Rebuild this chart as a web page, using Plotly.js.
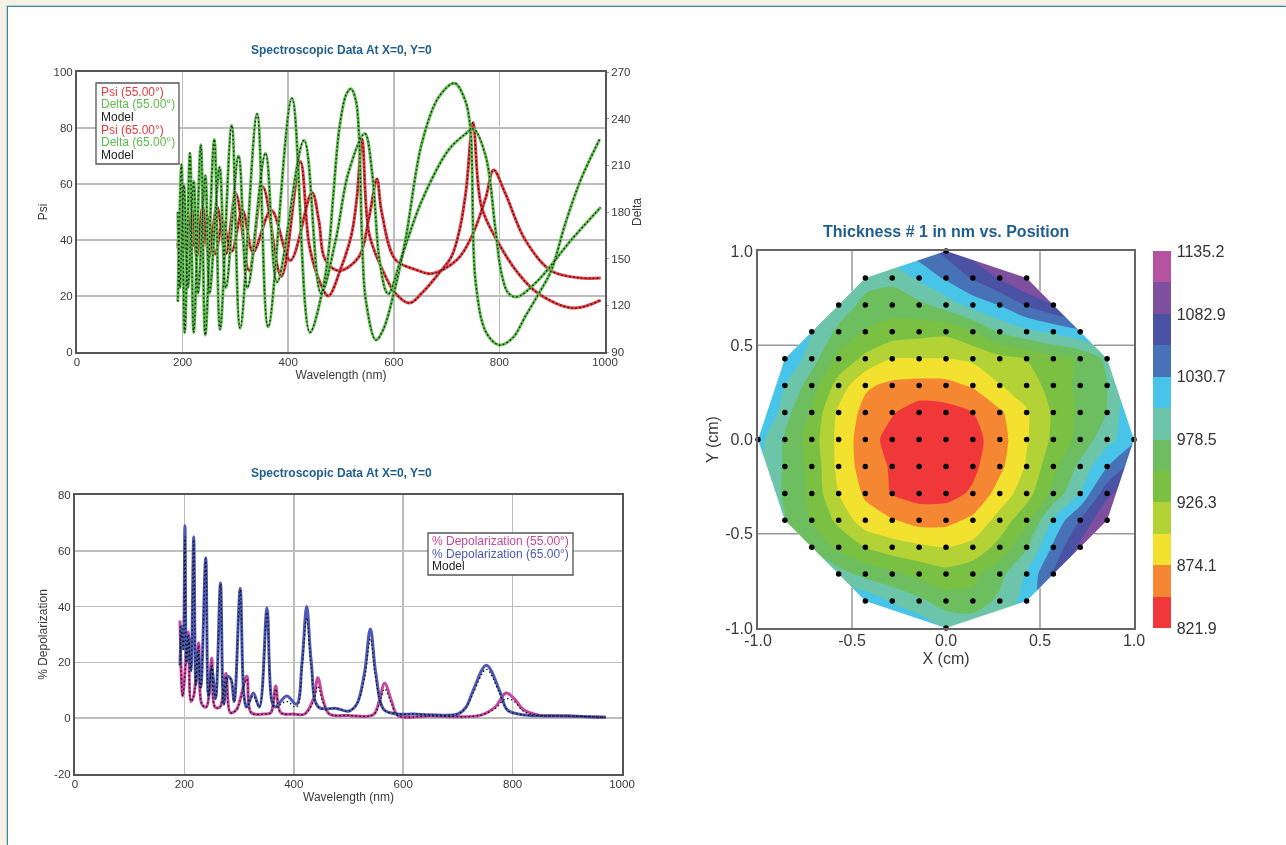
<!DOCTYPE html>
<html><head><meta charset="utf-8">
<script src="https://cdn.plot.ly/plotly-3.0.1.min.js"></script>
<style>
html,body{margin:0;padding:0;background:#f7f1e5;width:1286px;height:845px;overflow:hidden}
#panel{position:absolute;left:7px;top:6px;width:1279px;height:839px;background:#fff;border-left:1px solid #3f86a0;border-top:1px solid #3f86a0;box-sizing:border-box;box-shadow:-1px -1px 0 #bcd2d4}
#plot{position:absolute;left:0;top:0;width:1286px;height:845px;filter:blur(0.4px)}
</style></head><body><div id="panel"></div><div id="plot"></div>
<script>
// --- Spectroscopic data: wavelength (nm) and value ---
const deltaAx=[191,198,204,214,221,234.5,243,260,271,293,309,341,362,407,441,465,476,485,497,510,519,528,534,540,547,566,580,600,622,653,685,715,735,745,755,775,800,825,850,875,898,925,953,990];
const deltaAy=[122.4,210.6,102.6,217.8,102.6,223.2,100.8,226.8,104.4,235.8,105.3,243,106.2,253.1,102.6,129.6,153,189,234,255.6,259.2,252,230.4,162,123.3,97.7,104.4,127.8,162,224.1,253.8,262.8,252,234,135,102.6,94.5,99,113.4,127.8,142.2,172.8,199.8,226.8];
const deltaBx=[191,195,202.5,210,221,229,243,251,270,282,306,323,357,379,430,462,490,514,545,559,572,585,590,615,653,704,735,751,774,792,804,817,834,874,936,992];
const deltaBy=[180,131.4,197.1,131.4,199.8,127.8,203.4,127.8,208.8,131.4,216,131.4,217.8,135,226.1,127.8,162,205.2,230.4,205.2,151.2,129.1,127.3,151.2,187.2,220,230,233.3,216,170.3,140.4,127.8,125.5,136.3,162,183.1];
const psi65x=[191,200,208,218,227,238,250,265,282,301,326,352,387,423,440,460,476,500,520,530,540,553,577,603,630,653,685,709,725,737,750,766,798,836,873,940,992];
const psi65y=[37,49,36,51,34,52,34,52,35,56.5,29,59,27,68,38,25,20,30,42,55,76,42.5,30,21,17.5,21,28,34,44,58,82,52,39,28,21,15.7,18.5];
const psi55x=[191,197.5,204,211,220,229,238,248,262,276,293,313.5,333.5,368,404,445,458,470,496,534,553,568,577,603,640,672,720,747,774,789,811,849,898,950,992];
const psi55y=[38,46,37,47,38,47,38,48,35,46.4,36,50.6,35.7,50.6,32.7,57,47,33,29,34,48,61.8,50,33,29.5,28,33,41,55,65,56.7,40,29,26.5,26.4];

const dep65x=[192,195,198,201,204,208,212,217,221,225,230,239,244,250,257,266,272,279,285,291,302,309,314,326,337,351,360,366,387,405,415,423.6,432,445,478,500,515,529,540,550,565,590,620,650,700,715,728,752,776,790,810,830,900,970];
const dep65y=[19,33,25,69,20,29,17,65,12,24,11,57.5,8,18,7,48.5,5,15,14,6,46.5,8,4,9,4,39.5,6,4,8,5,20,40,20,4,3.5,2.5,5,16,32,16,3,1.5,1.5,1.2,1.5,4,10,19,10,3,1.5,1,0.8,0.3];
const dep65my=[19,32,24,65,20,28,17,64,12,23,11,57,8,18,7,48,5,14,14,6,46,8,4,8,4,38,6,4,6,4,18,36,18,4,3.5,2.5,5,14,28.5,14,3,1.5,1.5,1.2,1.5,4,9,17.5,9,3,1.5,1,0.8,0.3];
const dep55x=[192,197,207,212,217,226,232,240,250,256,265,276,284,295,314,322,345,358,367,376,400,420,436,444,453,465,500,545,556,566,579,590,650,740,768,788,803,820,850,900,970];
const dep55y=[35,8,31,6,8,27,5,4,21.5,4,4,16,2,3,15,2,1.5,2,11.5,2,1.5,1.5,7,14.5,7,1.5,1,1.2,6,12.5,6,1,0.8,1,4,9,7,3,1,0.8,0.3];
const dep55my=[33,8,30,6,8,26,5,4,20,4,4,15,2,3,14,2,1.5,2,10.5,2,1.5,1.5,6,11.5,6,1.5,1,1.2,5,10.5,5,1,0.8,1,3.5,7,6,2.5,1,0.8,0.3];

// --- Thickness map: 15 x 15 wafer grid, rows from Y=-1 to Y=+1 ---
const gridX=[-1,-0.857,-0.714,-0.571,-0.429,-0.286,-0.143,0,0.143,0.286,0.429,0.571,0.714,0.857,1];
const gridY=gridX.slice();
const zRows=[
[1070,1060,1050,1045,1040,1030,1025,1003,998,1012,1035,1080,1100,1120,1125],
[1060,1050,1040,1030,1025,1002,985,965,962,985,1015,1060,1100,1120,1125],
[1040,1030,1010,990,970,958,945,935,945,970,1008,1060,1110,1125,1125],
[1010,995,975,945,926,912,905,900,908,935,975,1035,1090,1115,1125],
[1000,980,950,920,885,876,864,866,880,910,945,1010,1058,1110,1125],
[1000,975,945,900,870,846,838,838,852,885,915,960,1006,1075,1110],
[1010,975,945,893,862,845,832,829,842,868,903,945,985,1030,1070],
[1015,975,940,892,860,838,826,825,838,863,898,932,962,995,1025],
[1050,988,948,895,866,850,835,838,848,870,897,930,958,979,1035],
[1060,1005,965,915,878,868,865,866,877,899,915,935,960,978,1020],
[1070,1032,990,945,920,900,900,900,905,918,927,945,955,985,1030],
[1060,1035,1005,972,950,940,935,932,950,982,998,1010,1025,1045,1060],
[1020,1015,1010,995,970,965,972,990,1015,1032,1060,1082,1105,1120,1130],
[1000,1000,1000,995,990,985,1010,1035,1060,1085,1112,1135,1150,1160,1160],
[1000,1000,1005,1008,1012,1025,1045,1065,1095,1125,1145,1160,1160,1160,1160]];
const dotColsPerRow=[0,3,4,5,6,6,6,7,6,6,6,5,4,3,0];
const hullX=[-1,-0.857,-0.714,-0.571,-0.429,0,0.429,0.571,0.714,0.857,1,0.857,0.714,0.571,0.429,0,-0.429,-0.571,-0.714,-0.857,-1];
const hullY=[0,-0.429,-0.571,-0.714,-0.857,-1,-0.857,-0.714,-0.571,-0.429,0,0.429,0.571,0.714,0.857,1,0.857,0.714,0.571,0.429,0];
const bandColors=['#f03739','#f58733','#f2e12e','#b2d235','#7ac143','#6cbe5e','#6cc5a8','#47c4e8','#4772b8','#4b52a4','#7f4f9f','#b6529f'];
const barTicks=[821.9,874.1,926.3,978.5,1030.7,1082.9,1135.2];
const barLabels=['821.9','874.1','926.3','978.5','1030.7','1082.9','1135.2'];
const wlTicks=[0,200,400,600,800,1000];
const depTicks=[-20,0,20,40,60,80];
const depLabels=['-20','0','20','40','60','80'];
const posTicks=[-1,-0.5,0,0.5,1];
const posLabels=['-1.0','-0.5','0.0','0.5','1.0'];

const W=1286,H=845;
const dx=(a,b)=>[a/W,b/W], dy=(t,b)=>[1-b/H,1-t/H];
const RED='#ea3a40',GREEN='#5cbd4c',PINK='#c9469f',BLUE='#4c59b5',TITLE='#1f5f8f',TXT='#3a3a3a';
const F='"Liberation Sans",Arial,sans-serif';
const line=(x,y,c,xa,ya)=>({x,y,xaxis:xa,yaxis:ya,mode:'lines',type:'scatter',hoverinfo:'skip',line:{color:c,width:3,shape:'spline'}});
const model=(x,y,xa,ya)=>({x,y,xaxis:xa,yaxis:ya,mode:'lines',type:'scatter',hoverinfo:'skip',line:{color:'#111',width:1.3,dash:'1.5px,2.5px',shape:'spline'}});

const dotX=[],dotY=[];
gridY.forEach((yy,r)=>{gridX.forEach((xx,c)=>{const n=dotColsPerRow[r];const u=c-7;if(Math.abs(u)<=n){dotX.push(xx);dotY.push(yy);}});});
const step=(1135.2-821.9)/12;
const scale=[];bandColors.forEach((c,i)=>{scale.push([i/12,c]);scale.push([(i+1)/12,c]);});
const maskX=[-1,-1,1,1,-1].concat(hullX), maskY=[0,1,1,-1,-1].concat(hullY);

const traces=[
 line(psi55x,psi55y,RED,'x','y'),
 line(psi65x,psi65y,RED,'x','y'),
 line(deltaAx,deltaAy,GREEN,'x','y2'),
 line(deltaBx,deltaBy,GREEN,'x','y2'),
 model(psi55x,psi55y,'x','y'),
 model(psi65x,psi65y,'x','y'),
 model(deltaAx,deltaAy,'x','y2'),
 model(deltaBx,deltaBy,'x','y2'),
 line(dep55x,dep55y,PINK,'x3','y3'),
 line(dep65x,dep65y,BLUE,'x3','y3'),
 model(dep55x,dep55my,'x3','y3'),
 model(dep65x,dep65my,'x3','y3'),
 {type:'contour',x:gridX,y:gridY,z:zRows,xaxis:'x4',yaxis:'y4',autocontour:false,zmin:821.9,zmax:1135.2,
  contours:{start:821.9,end:1135.2,size:step,coloring:'fill',showlines:false},line:{width:0,smoothing:0.6},
  colorscale:scale,hoverinfo:'skip',
  colorbar:{x:1153/W,xanchor:'left',y:1-628/H,yanchor:'bottom',len:377/H,lenmode:'fraction',thickness:18,thicknessmode:'pixels',xpad:0,ypad:0,
   outlinewidth:0,ticks:'outside',ticklen:3,tickcolor:'rgba(0,0,0,0)',tickmode:'array',tickvals:barTicks,ticktext:barLabels,tickfont:{family:F,size:16,color:'#333'}}},
 {x:maskX,y:maskY,xaxis:'x4',yaxis:'y4',type:'scatter',mode:'none',fill:'toself',fillcolor:'#fff',hoverinfo:'skip'},
 {x:dotX,y:dotY,xaxis:'x4',yaxis:'y4',type:'scatter',mode:'markers',marker:{color:'#000',size:5.5},cliponaxis:false,hoverinfo:'skip'}
];

const ax=(o)=>Object.assign({showline:true,mirror:true,linecolor:'#555',linewidth:2,gridcolor:'#bdbdbd',gridwidth:1.5,zeroline:false,ticks:'',tickfont:{family:F,size:11.5,color:TXT},fixedrange:true,automargin:false},o);
const axT=(t,s,st)=>({text:t,font:{family:F,size:s,color:TXT},standoff:st});

const stubA=[-0.5,-0.5,0.5,0.5], stubB=[0.786,-0.786,0.786,-0.786], stubEnd=[1,-1,1,-1];
const shapes=[];
stubA.forEach((v,i)=>{
 shapes.push({type:'line',xref:'x4',yref:'y4',x0:v,x1:v,y0:stubB[i],y1:stubEnd[i],line:{color:'#9a9a9a',width:1.5},layer:'above'});
 shapes.push({type:'line',xref:'x4',yref:'y4',y0:v,y1:v,x0:stubB[i],x1:stubEnd[i],line:{color:'#9a9a9a',width:1.5},layer:'above'});
});
const boxShape=(x0,y0,x1,y1)=>({type:'rect',xref:'paper',yref:'paper',x0:x0/W,x1:x1/W,y0:1-y1/H,y1:1-y0/H,fillcolor:'#fff',line:{color:'#555',width:1.3},layer:'above'});
shapes.push(boxShape(96,83,179,164),boxShape(428,533,573,575));

const title=(t,x,y,s)=>({text:'<b>'+t+'</b>',xref:'paper',yref:'paper',x:x/W,y:1-y/H,xanchor:'center',yanchor:'middle',showarrow:false,font:{family:F,size:s,color:TITLE}});
const legLine=(t,c,x,y)=>({text:t,xref:'paper',yref:'paper',x:x/W,y:1-y/H,xanchor:'left',yanchor:'middle',showarrow:false,borderpad:0,font:{family:F,size:12,color:c}});

const layout={width:W,height:H,margin:{l:0,r:0,t:0,b:0},paper_bgcolor:'rgba(0,0,0,0)',plot_bgcolor:'#fff',showlegend:false,shapes,
 xaxis:ax({domain:dx(77,605),range:[0,1000],tickvals:wlTicks,ticklabelstandoff:-2,title:axT('Wavelength (nm)',12,4),anchor:'y'}),
 yaxis:ax({domain:dy(72,352),range:[0,100],dtick:20,title:axT('Psi',12,3),anchor:'x'}),
 yaxis2:ax({domain:dy(72,352),range:[90,270],dtick:30,overlaying:'y',side:'right',anchor:'x',showgrid:false,ticks:'outside',ticklen:2,tickcolor:'#999',mirror:false,title:axT('Delta',12,3)}),
 xaxis3:ax({domain:dx(75,622),range:[0,1000],tickvals:wlTicks,ticklabelstandoff:-2,title:axT('Wavelength (nm)',12,4),anchor:'y3'}),
 yaxis3:ax({domain:dy(495,774),range:[-20,80],tickvals:depTicks,ticktext:depLabels,title:axT('% Depolarization',12,4),anchor:'x3'}),
 xaxis4:ax({domain:dx(758,1134),range:[-1,1],tickvals:posTicks,ticktext:posLabels,ticklabelstandoff:-3,showgrid:false,linecolor:'#666',tickfont:{family:F,size:16,color:TXT},title:axT('X (cm)',16,5),anchor:'y4'}),
 yaxis4:ax({domain:dy(251,628),range:[-1,1],tickvals:posTicks,ticktext:posLabels,showgrid:false,linecolor:'#666',tickfont:{family:F,size:16,color:TXT},title:axT('Y (cm)',16,3),anchor:'x4'}),
 annotations:[
  title('Spectroscopic Data At X=0, Y=0',341,50,12),
  title('Spectroscopic Data At X=0, Y=0',341,473,12),
  title('Thickness # 1 in nm vs. Position',946,232,16),
  legLine('Psi (55.00°)',RED,100,92),
  legLine('Delta (55.00°)',GREEN,100,104.5),
  legLine('Model','#222',100,117),
  legLine('Psi (65.00°)',RED,100,129.5),
  legLine('Delta (65.00°)',GREEN,100,142),
  legLine('Model','#222',100,155),
  legLine('% Depolarization (55.00°)',PINK,431,541),
  legLine('% Depolarization (65.00°)',BLUE,431,554),
  legLine('Model','#222',431,566)
 ]};
Plotly.newPlot('plot',traces,layout,{displayModeBar:false,staticPlot:true});
</script></body></html>
